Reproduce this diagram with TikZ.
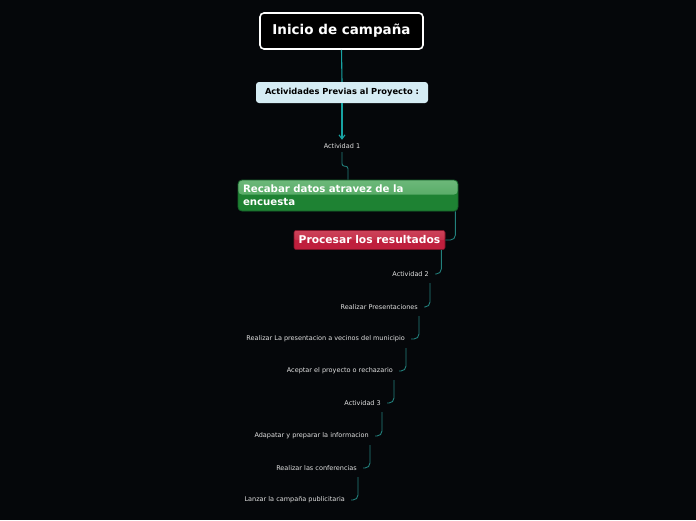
\documentclass[tikz,border=0pt]{standalone}
\usepackage{fontspec}
\setmainfont{DejaVu Sans}
\usetikzlibrary{arrows.meta,calc}
\definecolor{bg}{HTML}{05070A}
\definecolor{tealA}{HTML}{17A3A3}
\definecolor{tealB}{HTML}{22807C}
\definecolor{lblue}{HTML}{D5ECF4}
\definecolor{gdark}{HTML}{1E8233}
\definecolor{glight}{HTML}{6CB879}
\definecolor{gmid}{HTML}{46A058}
\definecolor{gborder}{HTML}{16622A}
\definecolor{rmain}{HTML}{BF1F3D}
\definecolor{rlight}{HTML}{CC4259}
\definecolor{rborder}{HTML}{7A1226}
\definecolor{txt}{HTML}{E2E2E2}
\tikzset{
  titlebox/.style={draw=white, line width=1.6pt, fill=black, rounded corners=4pt,
    minimum width=163pt, minimum height=36pt, inner sep=0pt, text=white,
    font=\fontsize{13.5}{16}\selectfont\bfseries},
  bluebox/.style={fill=lblue, rounded corners=3pt, minimum width=172pt, minimum height=21pt,
    inner sep=0pt, text=black, font=\fontsize{8.3}{10}\selectfont\bfseries},
  greenbox/.style={draw=gborder, line width=0.8pt, fill=gdark, rounded corners=4pt,
    minimum width=220pt, minimum height=31pt, text width=210pt, align=left,
    inner xsep=5pt, inner ysep=0pt, text=white,
    font=\fontsize{10.2}{13}\selectfont\bfseries,
    path picture={\shade[top color=glight, bottom color=gmid]
      (path picture bounding box.north west) rectangle
      ([yshift=1pt]path picture bounding box.east);}},
  redbox/.style={draw=rborder, line width=0.6pt, fill=rmain, rounded corners=2pt,
    minimum width=151pt, minimum height=19pt, inner sep=0pt, text=white,
    font=\fontsize{10.7}{12}\selectfont\bfseries,
    path picture={\shade[top color=rlight, bottom color=rmain]
      (path picture bounding box.north west) rectangle
      (path picture bounding box.east);}},
  leaf/.style={inner sep=0pt, text=txt, font=\fontsize{6.5}{7.5}\selectfont, anchor=east},
  conA/.style={draw=tealA, line width=1.1pt},
  conB/.style={draw=tealB, line width=0.9pt, rounded corners=5pt},
}
\begin{document}
\begin{tikzpicture}[x=1pt,y=1pt]
\fill[bg] (0,0) rectangle (696,-520);
\useasboundingbox (0,0) rectangle (696,-520);

\node[titlebox] (t) at (341.5,-31) {Inicio de campaña};
\node[bluebox] (p) at (342,-92.5) {Actividades Previas al Proyecto :};
\node[leaf, anchor=center] (a1) at (342,-146.5) {Actividad 1};
\node[greenbox] (g) at (348,-195.5) {Recabar datos atravez de la\\encuesta};
\node[redbox] (r) at (369.5,-240) {Procesar los resultados};

\node[leaf] (n1) at (429,-274) {Actividad 2};
\node[leaf] (n2) at (418,-307) {Realizar Presentaciones};
\node[leaf] (n3) at (405,-339) {Realizar La presentacion a vecinos del municipio};
\node[leaf] (n4) at (393,-371) {Aceptar el proyecto o rechazario};
\node[leaf] (n5) at (381,-403) {Actividad 3};
\node[leaf] (n6) at (369,-436) {Adapatar y preparar la informacion};
\node[leaf] (n7) at (357,-468) {Realizar las conferencias};
\node[leaf] (n8) at (345,-500) {Lanzar la campaña publicitaria};

\draw[conA] (t.south) -- (p.north);
\draw[conA, -{Straight Barb[length=4pt,width=6pt]}] (p.south) -- ([yshift=4pt]a1.north);
\draw[conB, rounded corners=2.5pt] ([yshift=-3pt]a1.south) -- ++(0,-14) -| (g.north);
\draw[conB] ([xshift=-3pt]g.south east) |- (r.east);
\draw[conB] ([xshift=-4pt]r.south east) |- ($(n1.east)+(6,0)$);
\foreach \a/\b in {n1/n2,n2/n3,n3/n4,n4/n5,n5/n6,n6/n7,n7/n8}{
  \draw[conB] ($(\a.east)+(1,-9)$) |- ($(\b.east)+(6,0)$);
}
\end{tikzpicture}
\end{document}
